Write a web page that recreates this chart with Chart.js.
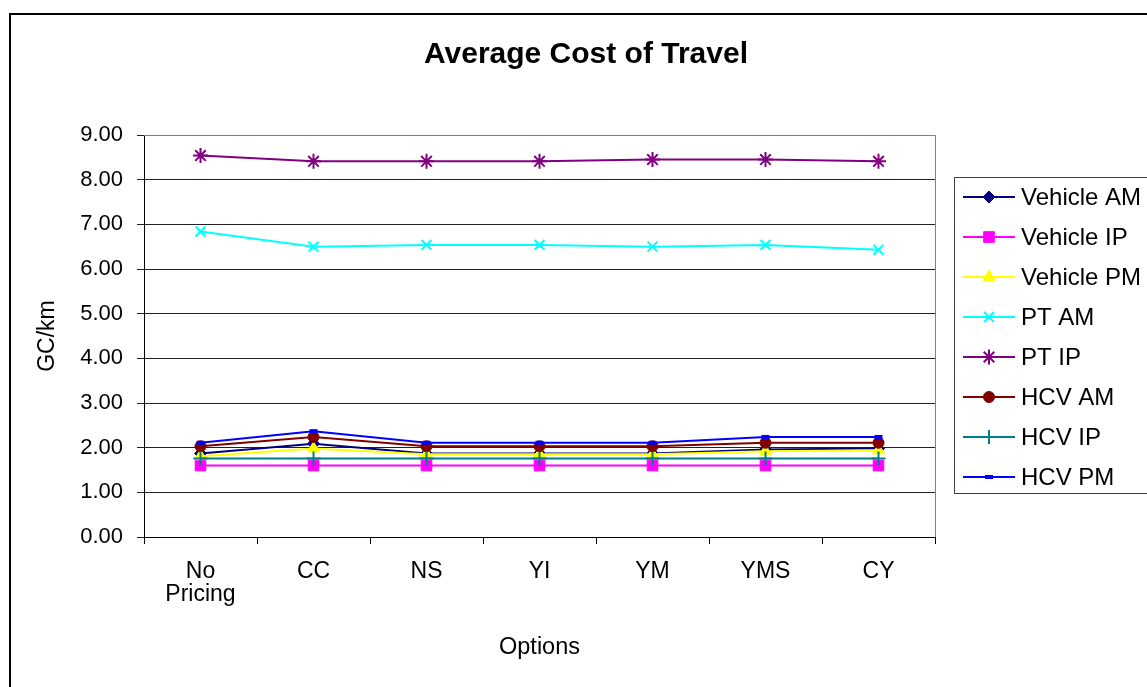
<!DOCTYPE html>
<html>
<head>
<meta charset="utf-8">
<title>Average Cost of Travel</title>
<script src="https://cdn.jsdelivr.net/npm/chart.js@4.4.0/dist/chart.umd.min.js"></script>
<style>
  html, body { margin: 0; padding: 0; background: #fff; }
  #wrap { width: 1147px; height: 687px; position: relative; }
</style>
</head>
<body>
<div id="wrap"><canvas id="costChart"></canvas></div>
<script>
const options = [['No', 'Pricing'], 'CC', 'NS', 'YI', 'YM', 'YMS', 'CY'];

const vehicleAM = [1.87, 2.09, 1.87, 1.87, 1.87, 1.96, 1.98];
const vehicleIP = [1.60, 1.60, 1.60, 1.60, 1.60, 1.60, 1.60];
const vehiclePM = [1.81, 1.98, 1.85, 1.85, 1.85, 1.92, 1.94];
const ptAM = [6.84, 6.50, 6.54, 6.54, 6.50, 6.54, 6.43];
const ptIP = [8.54, 8.41, 8.41, 8.41, 8.45, 8.45, 8.41];
const hcvAM = [2.03, 2.24, 2.03, 2.03, 2.03, 2.11, 2.11];
const hcvIP = [1.76, 1.76, 1.76, 1.76, 1.76, 1.76, 1.76];
const hcvPM = [2.11, 2.37, 2.11, 2.11, 2.11, 2.24, 2.24];

const seriesNames = ['Vehicle AM', 'Vehicle IP', 'Vehicle PM', 'PT AM', 'PT IP', 'HCV AM', 'HCV IP', 'HCV PM'];
const seriesValues = [vehicleAM, vehicleIP, vehiclePM, ptAM, ptIP, hcvAM, hcvIP, hcvPM];

const FONT = '"Liberation Sans", Arial, sans-serif';

// marker look per series: [color, pointStyle, radius, marker border width]
const looks = [
    ['#000080', 'rectRot', 6, 1],
    ['#FF00FF', 'rect', 7.5, 1],
    ['#FFFF00', 'triangle', 7, 1],
    ['#00FFFF', 'crossRot', 7, 2],
    ['#800080', 'star', 7.5, 2],
    ['#800000', 'circle', 5.5, 1],
    ['#008080', 'cross', 7, 2],
    ['#0000FF', 'line', 4, 4],
];

const datasets = seriesNames.map((name, i) => {
    const [color, style, radius, bw] = looks[i];
    return {
        label: name,
        data: seriesValues[i],
        borderColor: color,
        backgroundColor: color,
        borderWidth: 2,
        pointStyle: style,
        pointRadius: radius,
        pointBorderWidth: bw,
        pointBackgroundColor: color,
        pointBorderColor: color,
        tension: 0,
        order: seriesNames.length - i, // later series sit on top
    };
});

// white page, outer frame, plot edges, title and the boxed legend
const frame = {
    id: 'frame',
    beforeDraw(chart) {
        const {ctx, width, height} = chart;
        ctx.save();
        ctx.fillStyle = '#ffffff';
        ctx.fillRect(0, 0, width, height);
        ctx.restore();
    },
    afterDraw(chart) {
        const {ctx, width, height, chartArea: a} = chart;
        ctx.save();

        ctx.strokeStyle = '#000';
        ctx.lineWidth = 2;
        ctx.strokeRect(10, 14, width + 20, height + 20);

        ctx.strokeStyle = '#808080';
        ctx.lineWidth = 1;
        ctx.beginPath();
        ctx.moveTo(a.left, a.top + 0.5);
        ctx.lineTo(a.right + 0.5, a.top + 0.5);
        ctx.lineTo(a.right + 0.5, a.bottom);
        ctx.stroke();

        ctx.fillStyle = '#000';
        ctx.font = 'bold 30px ' + FONT;
        ctx.textAlign = 'center';
        ctx.textBaseline = 'middle';
        ctx.fillText('Average Cost of Travel', 586, 55);

        const lx = a.right + 19, ly = 177;
        ctx.strokeStyle = '#404040';
        ctx.lineWidth = 1;
        ctx.strokeRect(lx + 0.5, ly + 0.5, 400, 316);

        ctx.font = '24px ' + FONT;
        ctx.textAlign = 'left';
        chart.data.datasets.forEach((ds, i) => {
            const y = ly + 20 + i * 40;
            ctx.strokeStyle = ds.borderColor;
            ctx.lineWidth = ds.borderWidth;
            ctx.beginPath();
            ctx.moveTo(lx + 9, y);
            ctx.lineTo(lx + 61, y);
            ctx.stroke();

            ctx.fillStyle = ds.pointBackgroundColor;
            ctx.strokeStyle = ds.pointBorderColor;
            ctx.lineWidth = ds.pointBorderWidth;
            Chart.helpers.drawPoint(ctx, {
                pointStyle: ds.pointStyle,
                radius: ds.pointRadius,
                borderWidth: ds.pointBorderWidth,
                rotation: 0
            }, lx + 35, y);

            ctx.fillStyle = '#000';
            ctx.fillText(ds.label, lx + 67, y + 1);
        });
        ctx.restore();
    }
};

new Chart(document.getElementById('costChart'), {
    type: 'line',
    data: {
        labels: options,
        datasets: datasets
    },
    options: {
        responsive: true,
        maintainAspectRatio: false,
        animation: false,
        layout: {
            padding: {top: 135, right: 212, bottom: 0, left: 0}
        },
        plugins: {
            legend: {display: false},
            tooltip: {enabled: false}
        },
        scales: {
            x: {
                offset: true,
                grid: {
                    offset: true,
                    drawOnChartArea: false,
                    drawTicks: true,
                    tickLength: 7,
                    color: '#000'
                },
                border: {color: '#000', width: 1},
                ticks: {
                    color: '#000',
                    font: {family: FONT, size: 23, lineHeight: 1.0},
                    padding: 16,
                    maxRotation: 0,
                    autoSkip: false
                },
                title: {
                    display: true,
                    text: 'Options',
                    color: '#000',
                    font: {family: FONT, size: 23.5},
                    padding: {top: 0, bottom: 25}
                },
                afterFit(scale) {
                    scale.height = 150;
                }
            },
            y: {
                min: 0,
                max: 9,
                grid: {
                    color: '#222',
                    lineWidth: 1,
                    tickLength: 7
                },
                border: {color: '#000', width: 1},
                ticks: {
                    stepSize: 1,
                    color: '#000',
                    font: {family: FONT, size: 22},
                    padding: 14,
                    callback: v => v.toFixed(2)
                },
                title: {
                    display: true,
                    text: 'GC/km',
                    color: '#000',
                    font: {family: FONT, size: 23},
                    padding: {top: 34, bottom: 0}
                },
                afterFit(scale) {
                    scale.width = 144;
                }
            }
        }
    },
    plugins: [frame]
});
</script>
</body>
</html>
